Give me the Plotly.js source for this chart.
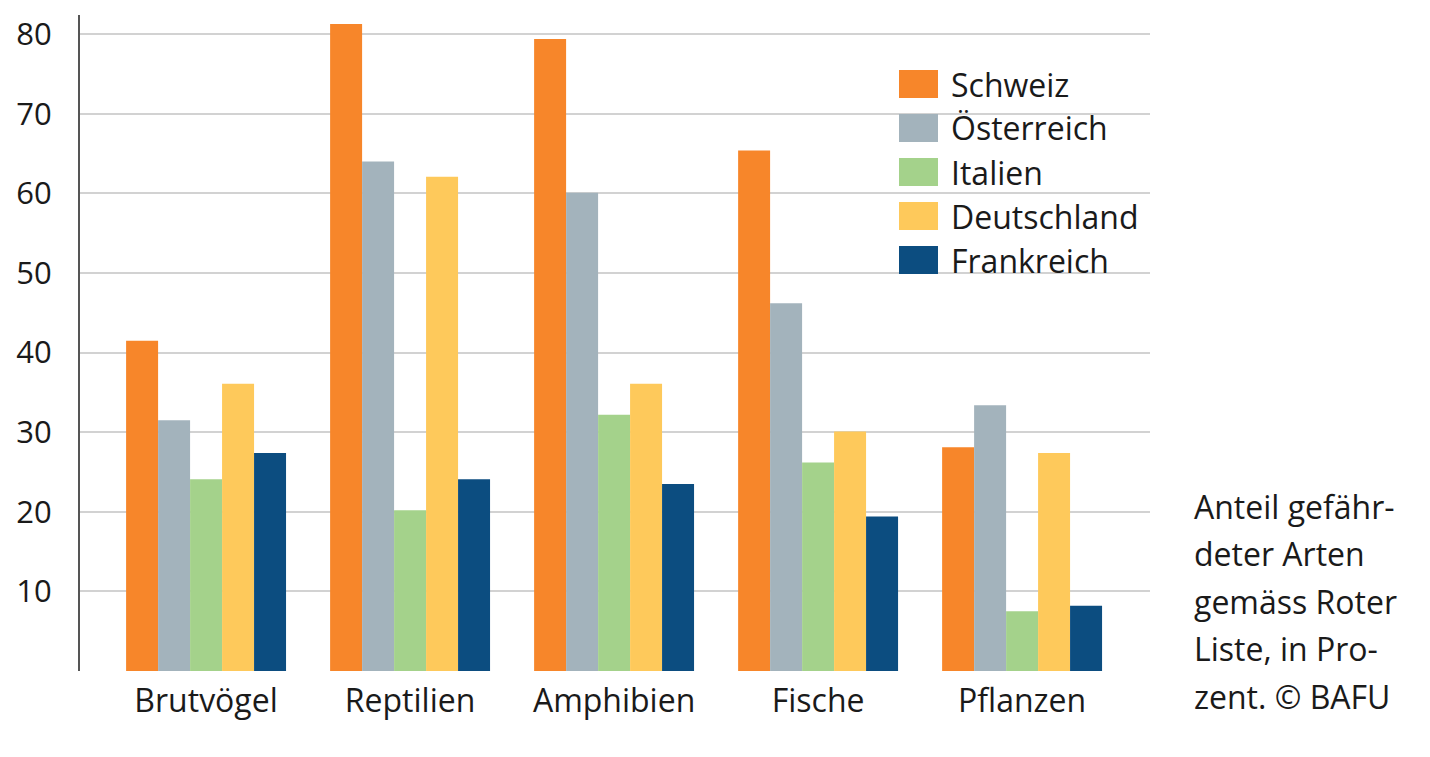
<!DOCTYPE html>
<html>
<head>
<meta charset="utf-8">
<script src="https://cdn.plot.ly/plotly-3.0.1.min.js"></script>
<style>
  html, body { margin: 0; padding: 0; background: #fff; }
  #chart { width: 1430px; height: 757px; }
</style>
</head>
<body>
<div id="chart"></div>
<script>
// ---- data ----
const categories = ["Brutvögel", "Reptilien", "Amphibien", "Fische", "Pflanzen"];
const seriesNames = ["Schweiz", "Österreich", "Italien", "Deutschland", "Frankreich"];
const schweiz     = [41.5, 81.3, 79.4, 65.4, 28.1];
const oesterreich = [31.5, 64.0, 60.1, 46.2, 33.4];
const italien     = [24.1, 20.2, 32.2, 26.2, 7.5];
const deutschland = [36.1, 62.1, 36.1, 30.1, 27.4];
const frankreich  = [27.4, 24.1, 23.5, 19.4, 8.2];
const yTickVals = [10, 20, 30, 40, 50, 60, 70, 80];
const noteLines = ["Anteil gefähr-", "deter Arten", "gemäss Roter", "Liste, in Pro-", "zent. © BAFU"];

const seriesValues = [schweiz, oesterreich, italien, deutschland, frankreich];
const colors = ["#F7862A", "#A3B3BC", "#A4D28B", "#FEC95B", "#0C4D80"];

const FONT = "'Open Sans', sans-serif";
const W = 1430, H = 757;
const M = { l: 80, r: 280, t: 15, b: 86 };
const plotW = W - M.l - M.r, plotH = H - M.t - M.b;
const px = x => (x - M.l) / plotW;
const py = y => (H - M.b - y) / plotH;

const traces = seriesNames.map((name, i) => ({
  type: "bar",
  name: name,
  x: categories,
  y: seriesValues[i],
  marker: { color: colors[i], line: { width: 0 } },
  hoverinfo: "x+y+name"
}));

const shapes = [];
const annotations = [];
seriesNames.forEach((name, i) => {
  const cy = 84 + i * 44;
  shapes.push({
    type: "rect", xref: "paper", yref: "paper",
    x0: px(899), x1: px(938), y0: py(cy - 14), y1: py(cy + 14),
    fillcolor: colors[i], line: { width: 0 }
  });
  annotations.push({
    xref: "paper", yref: "paper", x: px(949), y: py(cy),
    xanchor: "left", yanchor: "middle", showarrow: false,
    text: name, font: { family: FONT, size: 32, color: "#1a1a1a" }
  });
});
noteLines.forEach((t, i) => {
  annotations.push({
    xref: "paper", yref: "paper", x: px(1192), y: py(506 + i * 47.5),
    xanchor: "left", yanchor: "middle", showarrow: false,
    text: t, font: { family: FONT, size: 32, color: "#1a1a1a" }
  });
});

const layout = {
  width: W, height: H,
  margin: { l: M.l, r: M.r, t: M.t, b: M.b, autoexpand: false },
  paper_bgcolor: "#fff", plot_bgcolor: "#fff",
  barmode: "group", bargap: 0.216, bargroupgap: 0,
  showlegend: false,
  font: { family: FONT, color: "#1a1a1a" },
  xaxis: {
    type: "category",
    range: [-0.618, 4.627],
    showgrid: false, zeroline: false, showline: false,
    ticks: "", tickfont: { family: FONT, size: 32, color: "#1a1a1a" },
    ticklabelstandoff: 8
  },
  yaxis: {
    range: [0, 82.42],
    tickvals: yTickVals,
    ticktext: yTickVals.map(String),
    showgrid: true, gridcolor: "#d2d2d2", gridwidth: 2,
    zeroline: false,
    showline: true, linecolor: "#555", linewidth: 2,
    ticks: "", tickfont: { family: FONT, size: 31, color: "#1a1a1a" },
    ticklabelstandoff: 20
  },
  shapes: shapes,
  annotations: annotations
};

Plotly.newPlot("chart", traces, layout, { displayModeBar: false, staticPlot: true });
</script>
</body>
</html>
